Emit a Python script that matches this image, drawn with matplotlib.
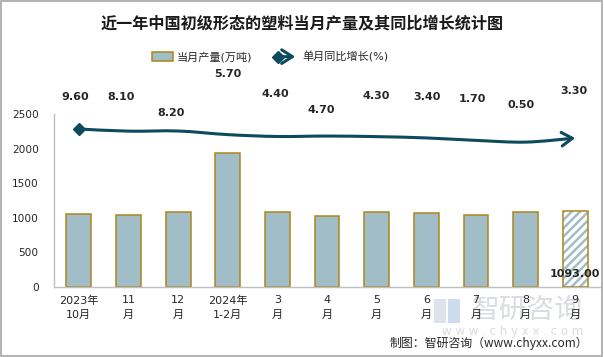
import numpy as np
import matplotlib
matplotlib.use("Agg")
import matplotlib.pyplot as plt
from matplotlib.path import Path
from matplotlib.patches import FancyArrowPatch, Rectangle, Patch
from matplotlib.lines import Line2D
from matplotlib.legend_handler import HandlerBase

plt.rcParams['font.family'] = ['DejaVu Sans', 'Noto Sans CJK SC']
plt.rcParams['hatch.linewidth'] = 1.8

# ---------------- data ----------------
categories = ["2023年\n10月", "11\n月", "12\n月", "2024年\n1-2月", "3\n月", "4\n月",
              "5\n月", "6\n月", "7\n月", "8\n月", "9\n月"]
output_values = [1050, 1035, 1079, 1939, 1079, 1021, 1079, 1064, 1035, 1079, 1093]
growth_values = [9.60, 8.10, 8.20, 5.70, 4.40, 4.70, 4.30, 3.40, 1.70, 0.50, 3.30]
y_ticks = [0, 500, 1000, 1500, 2000, 2500]

title = "近一年中国初级形态的塑料当月产量及其同比增长统计图"
bar_label = "当月产量(万吨)"
line_label = "单月同比增长(%)"
source = "制图：智研咨询（www.chyxx.com）"

# label offsets (pixels) relative to each line point
lab_dx = [-4, -7, -7, 0, -2, -6, 0, 1, -4, -4, -1]
lab_dy = [32, 34, 18, 61, 42, 26, 41, 41, 41, 37, 47]

bar_color = '#A0BDC8'
edge_color = '#AE8519'
line_color = '#0C4A5E'
text_color = '#262626'

# ---------------- figure ----------------
W, H = 604, 357
fig = plt.figure(figsize=(W / 100, H / 100), dpi=100)
fig.patch.set_facecolor('white')

ax = fig.add_axes([54 / W, 1 - 287 / H, (600 - 54) / W, (287 - 114) / H])
x = np.arange(len(categories))
n = len(categories)

# solid bars (all except the last, which is hatched)
ax.bar(x[:-1], output_values[:-1], width=0.5, color=bar_color,
       edgecolor=edge_color, linewidth=1.1, zorder=2)
ax.bar(x[-1:], output_values[-1:], width=0.5, color='white', hatch='////',
       edgecolor=bar_color, linewidth=0, zorder=2)
ax.bar(x[-1:], output_values[-1:], width=0.5, color='none',
       edgecolor=edge_color, linewidth=1.1, zorder=3)

ax.annotate(f"{output_values[-1]:.2f}", xy=(x[-1], 0), xytext=(0, 13),
            textcoords='offset pixels', ha='center', va='center',
            fontsize=8, fontweight='bold', color=text_color, zorder=5)

ax.set_xlim(-0.5, n - 0.5)
ax.set_ylim(0, 2500)
ax.set_yticks(y_ticks)
ax.set_yticklabels([str(v) for v in y_ticks])
ax.set_xticks(x)
ax.set_xticklabels(categories, linespacing=1.55)
ax.tick_params(axis='y', length=0, pad=11, labelsize=7.6, labelcolor=text_color)
ax.tick_params(axis='x', length=0, pad=6, labelsize=8, labelcolor=text_color)
for s in ['top', 'right']:
    ax.spines[s].set_visible(False)
for s in ['left', 'bottom']:
    ax.spines[s].set_color('#BFBFBF')
    ax.spines[s].set_linewidth(1)

# secondary hidden axis for growth line
ax2 = ax.twinx()
ax2.set_ylim(-100, 20)
ax2.axis('off')

pts = np.column_stack([x, growth_values]).astype(float)
verts = [pts[0]]
codes = [Path.MOVETO]
for i in range(n - 1):
    p0 = pts[i - 1] if i > 0 else pts[i]
    p1 = pts[i]
    p2 = pts[i + 1]
    p3 = pts[i + 2] if i + 2 < n else pts[i + 1]
    c1 = p1 + (p2 - p0) / 6.0
    c2 = p2 - (p3 - p1) / 6.0
    verts += [c1, c2, p2]
    codes += [Path.CURVE4] * 3
curve = Path(np.array(verts), codes)
arrow = FancyArrowPatch(path=curve, arrowstyle='->,head_length=0.55,head_width=0.35',
                        mutation_scale=14, color=line_color, linewidth=2.2,
                        transform=ax2.transData, zorder=4, clip_on=False)
ax2.add_patch(arrow)
ax2.plot([x[0]], [growth_values[0]], marker='D', markersize=6, color=line_color,
         zorder=5, clip_on=False)

for i, v in enumerate(growth_values):
    ax2.annotate(f"{v:.2f}", xy=(x[i], v), xytext=(lab_dx[i], lab_dy[i]),
                 textcoords='offset pixels', ha='center', va='center',
                 fontsize=8, fontweight='bold', color=text_color,
                 annotation_clip=False)

# ---------------- legend ----------------
class LineArrowHandler(HandlerBase):
    def create_artists(self, legend, orig_handle, xdescent, ydescent,
                       width, height, fontsize, trans):
        y = height / 2 - ydescent
        a = FancyArrowPatch((-xdescent, y), (-xdescent + width, y),
                            arrowstyle='->,head_length=0.55,head_width=0.35',
                            mutation_scale=14, color=line_color, linewidth=2.2,
                            transform=trans)
        d = Line2D([-xdescent + 1], [y], marker='D', markersize=6,
                   color=line_color, linestyle='none', transform=trans)
        return [a, d]

bar_handle = Patch(facecolor=bar_color, edgecolor=edge_color, linewidth=1.1)
line_handle = Line2D([], [], color=line_color)
fig.legend([bar_handle, line_handle], [bar_label, line_label],
           handler_map={Line2D: LineArrowHandler()},
           loc='center', bbox_to_anchor=(270 / W, 1 - 57 / H), ncol=2,
           frameon=False, fontsize=8, handlelength=1.9, handleheight=0.8,
           handletextpad=0.35, columnspacing=2.2, labelcolor=text_color)

# ---------------- texts ----------------
fig.text(0.5, 1 - 23 / H, title, ha='center', va='center', fontsize=11.6,
         fontweight='bold', color='#1a1a1a', family=['Noto Sans CJK SC'])

# watermark
fig.text(583 / W, 1 - 310 / H, "智研咨询", ha='right', va='center', fontsize=20,
         color='#D9DCE1', family=['Noto Sans CJK SC'], zorder=-1)
fig.text(583 / W, 1 - 332 / H, "w w w . c h y x x . c o m", ha='right', va='center',
         fontsize=8.5, color='#D9DCE1', zorder=-1)
fig.patches.append(Rectangle((434 / W, 1 - 323 / H), 12 / W, 24 / H,
                             transform=fig.transFigure, facecolor='#DCE3EC',
                             edgecolor='none', zorder=-1))
fig.patches.append(Rectangle((448 / W, 1 - 323 / H), 12 / W, 24 / H,
                             transform=fig.transFigure, facecolor='#CCDCEE',
                             edgecolor='none', zorder=-1))

fig.text(588 / W, 1 - 343 / H, source, ha='right', va='center', fontsize=8.6,
         color='#262626', family=['Noto Sans CJK SC'])

# outer border
fig.patches.append(Rectangle((1 / W, 1 / H), 601 / W, 355 / H,
                             transform=fig.transFigure, facecolor='none',
                             edgecolor='#A6A6A6', linewidth=1.2, zorder=10))

fig.savefig('out.png', dpi=100)
